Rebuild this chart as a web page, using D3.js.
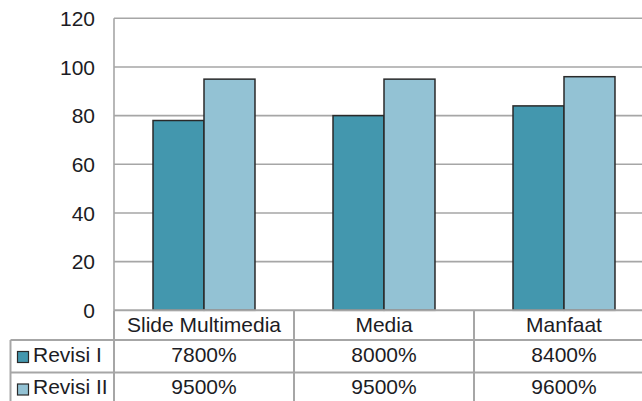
<!DOCTYPE html>
<html><head><meta charset="utf-8">
<script src="https://cdn.jsdelivr.net/npm/d3@7"></script>
<style>body{margin:0;background:#fff}svg{display:block}</style>
</head><body><svg id="c" width="642" height="401"></svg>
<script>
const categories = ["Slide Multimedia", "Media", "Manfaat"];
const seriesNames = ["Revisi I", "Revisi II"];
const revisiI = [78, 80, 84];
const revisiII = [95, 95, 96];
const tableLabelsI = ["7800%", "8000%", "8400%"];
const tableLabelsII = ["9500%", "9500%", "9600%"];
const yTicks = [0, 20, 40, 60, 80, 100, 120];
const colors = ["#4397ae", "#93c2d4"];

(function () {
const svg = d3.select("#c");
const font = "Liberation Sans, Arial, sans-serif";
const textColor = "#1c1c24";
const lineColor = "#a6a6a6";
const pLeft = 114, pRight = 654, pTop = 18.3, pBottom = 310.3;

const x = d3.scaleBand().domain(categories).range([pLeft, pRight]).paddingInner(0).paddingOuter(0);
const xs = d3.scaleBand().domain(seriesNames).range([0, x.bandwidth()]).paddingInner(0).paddingOuter(0.765);
const y = d3.scaleLinear().domain([0, 120]).range([pBottom, pTop]);

svg.append("g").selectAll("line").data(yTicks.filter(d => d > 0)).join("line")
  .attr("x1", pLeft).attr("x2", 642).attr("y1", d => y(d)).attr("y2", d => y(d))
  .attr("stroke", lineColor).attr("stroke-width", 1.6);
svg.append("line").attr("x1", pLeft).attr("x2", pLeft).attr("y1", y(120)).attr("y2", pBottom)
  .attr("stroke", lineColor).attr("stroke-width", 1.6);

svg.append("g").selectAll("text").data(yTicks).join("text")
  .attr("x", 95).attr("y", d => y(d)).attr("dy", "0.36em")
  .attr("text-anchor", "end").attr("font-family", font).attr("font-size", 21)
  .attr("fill", textColor).text(d => d);

const data = categories.map((c, i) => ({c, vals: [revisiI[i], revisiII[i]]}));
const g = svg.append("g").selectAll("g").data(data).join("g")
  .attr("transform", d => `translate(${x(d.c)},0)`);
g.selectAll("rect").data(d => d.vals.map((v, j) => ({s: seriesNames[j], v, j}))).join("rect")
  .attr("x", d => xs(d.s)).attr("width", xs.bandwidth())
  .attr("y", d => y(d.v)).attr("height", d => pBottom - y(d.v))
  .attr("fill", d => colors[d.j]).attr("stroke", "#2a2a2a").attr("stroke-width", 1.5);

const rowTops = [310.3, 340, 372.5, 405];
const tg = svg.append("g");
tg.append("line").attr("x1", pLeft).attr("x2", 642).attr("y1", rowTops[0]).attr("y2", rowTops[0])
  .attr("stroke", lineColor).attr("stroke-width", 2);
[rowTops[1], rowTops[2]].forEach(yy => tg.append("line").attr("x1", 10.5).attr("x2", 642)
  .attr("y1", yy).attr("y2", yy).attr("stroke", lineColor).attr("stroke-width", 2));
categories.forEach(c => tg.append("line").attr("x1", x(c)).attr("x2", x(c))
  .attr("y1", rowTops[0]).attr("y2", 401).attr("stroke", lineColor).attr("stroke-width", 2));
tg.append("line").attr("x1", 10.5).attr("x2", 10.5).attr("y1", rowTops[1]).attr("y2", 401)
  .attr("stroke", lineColor).attr("stroke-width", 2);

tg.selectAll("text.cat").data(categories).join("text").attr("class", "cat")
  .attr("x", d => x(d) + x.bandwidth() / 2).attr("y", rowTops[0] + 21.5)
  .attr("text-anchor", "middle").attr("font-family", font).attr("font-size", 21)
  .attr("fill", textColor).text(d => d);

const rows = [tableLabelsI, tableLabelsII];
rows.forEach((labels, r) => {
  const ty = rowTops[r + 1] + 21.5;
  tg.append("rect").attr("x", 17.5).attr("y", rowTops[r + 1] + 11.5).attr("width", 11).attr("height", 11)
    .attr("fill", colors[r]).attr("stroke", "#2a2a2a").attr("stroke-width", 1.2);
  tg.append("text").attr("x", 33).attr("y", ty).attr("font-family", font).attr("font-size", 21)
    .attr("fill", textColor).text(seriesNames[r]);
  tg.selectAll(null).data(labels).join("text")
    .attr("x", (d, i) => x(categories[i]) + x.bandwidth() / 2).attr("y", ty)
    .attr("text-anchor", "middle").attr("font-family", font).attr("font-size", 21)
    .attr("fill", textColor).text(d => d);
});
})();
</script></body></html>
